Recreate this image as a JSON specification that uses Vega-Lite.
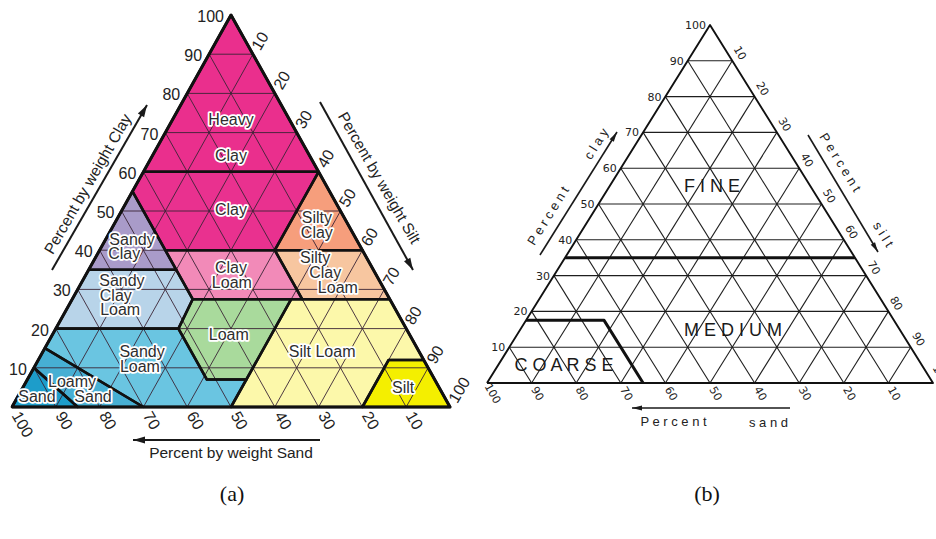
{
  "$schema": "https://vega.github.io/schema/vega-lite/v6.json",
  "padding": 0,
  "spacing": 0,
  "bounds": "flush",
  "autosize": {"type": "pad"},
  "background": "white",
  "config": {"view": {"stroke": null}, "text": {"font": "Liberation Sans"}},
  "datasets": {
    "grid": [
      {"x": 5, "y": 10, "x2": 95, "y2": 10}, {"x": 10, "y": 20, "x2": 90, "y2": 20}, {"x": 15, "y": 30, "x2": 85, "y2": 30},
      {"x": 20, "y": 40, "x2": 80, "y2": 40}, {"x": 25, "y": 50, "x2": 75, "y2": 50}, {"x": 30, "y": 60, "x2": 70, "y2": 60},
      {"x": 35, "y": 70, "x2": 65, "y2": 70}, {"x": 40, "y": 80, "x2": 60, "y2": 80}, {"x": 45, "y": 90, "x2": 55, "y2": 90},
      {"x": 10, "y": 0, "x2": 55, "y2": 90}, {"x": 20, "y": 0, "x2": 60, "y2": 80}, {"x": 30, "y": 0, "x2": 65, "y2": 70},
      {"x": 40, "y": 0, "x2": 70, "y2": 60}, {"x": 50, "y": 0, "x2": 75, "y2": 50}, {"x": 60, "y": 0, "x2": 80, "y2": 40},
      {"x": 70, "y": 0, "x2": 85, "y2": 30}, {"x": 80, "y": 0, "x2": 90, "y2": 20}, {"x": 90, "y": 0, "x2": 95, "y2": 10},
      {"x": 90, "y": 0, "x2": 45, "y2": 90}, {"x": 80, "y": 0, "x2": 40, "y2": 80}, {"x": 70, "y": 0, "x2": 35, "y2": 70},
      {"x": 60, "y": 0, "x2": 30, "y2": 60}, {"x": 50, "y": 0, "x2": 25, "y2": 50}, {"x": 40, "y": 0, "x2": 20, "y2": 40},
      {"x": 30, "y": 0, "x2": 15, "y2": 30}, {"x": 20, "y": 0, "x2": 10, "y2": 20}, {"x": 10, "y": 0, "x2": 5, "y2": 10}
    ],
    "tri": [
      {"i": 0, "x": 0, "y": 0}, {"i": 1, "x": 100, "y": 0}, {"i": 2, "x": 50, "y": 100}, {"i": 3, "x": 0, "y": 0}
    ],
    "clayTicks": [
      {"t": "10", "x": 5, "y": 10}, {"t": "20", "x": 10, "y": 20}, {"t": "30", "x": 15, "y": 30}, {"t": "40", "x": 20, "y": 40},
      {"t": "50", "x": 25, "y": 50}, {"t": "60", "x": 30, "y": 60}, {"t": "70", "x": 35, "y": 70}, {"t": "80", "x": 40, "y": 80},
      {"t": "90", "x": 45, "y": 90}, {"t": "100", "x": 50, "y": 100}
    ],
    "siltTicks": [
      {"t": "10", "x": 55, "y": 90}, {"t": "20", "x": 60, "y": 80}, {"t": "30", "x": 65, "y": 70}, {"t": "40", "x": 70, "y": 60},
      {"t": "50", "x": 75, "y": 50}, {"t": "60", "x": 80, "y": 40}, {"t": "70", "x": 85, "y": 30}, {"t": "80", "x": 90, "y": 20},
      {"t": "90", "x": 95, "y": 10}, {"t": "100", "x": 100, "y": 0}
    ],
    "sandTicks": [
      {"t": "100", "x": 0, "y": 0}, {"t": "90", "x": 10, "y": 0}, {"t": "80", "x": 20, "y": 0}, {"t": "70", "x": 30, "y": 0},
      {"t": "60", "x": 40, "y": 0}, {"t": "50", "x": 50, "y": 0}, {"t": "40", "x": 60, "y": 0}, {"t": "30", "x": 70, "y": 0},
      {"t": "20", "x": 80, "y": 0}, {"t": "10", "x": 90, "y": 0}
    ],
    "regionsA": [
      {"region": "Heavy Clay", "i": 0, "x": 50, "y": 100}, {"region": "Heavy Clay", "i": 1, "x": 30, "y": 60}, {"region": "Heavy Clay", "i": 2, "x": 70, "y": 60}, {"region": "Heavy Clay", "i": 3, "x": 50, "y": 100},
      {"region": "Clay", "i": 0, "x": 30, "y": 60}, {"region": "Clay", "i": 1, "x": 27.5, "y": 55}, {"region": "Clay", "i": 2, "x": 35, "y": 40}, {"region": "Clay", "i": 3, "x": 60, "y": 40}, {"region": "Clay", "i": 4, "x": 70, "y": 60}, {"region": "Clay", "i": 5, "x": 30, "y": 60},
      {"region": "Sandy Clay", "i": 0, "x": 27.5, "y": 55}, {"region": "Sandy Clay", "i": 1, "x": 17.5, "y": 35}, {"region": "Sandy Clay", "i": 2, "x": 37.5, "y": 35}, {"region": "Sandy Clay", "i": 3, "x": 27.5, "y": 55},
      {"region": "Silty Clay", "i": 0, "x": 70, "y": 60}, {"region": "Silty Clay", "i": 1, "x": 60, "y": 40}, {"region": "Silty Clay", "i": 2, "x": 80, "y": 40}, {"region": "Silty Clay", "i": 3, "x": 70, "y": 60},
      {"region": "Sandy Clay Loam", "i": 0, "x": 17.5, "y": 35}, {"region": "Sandy Clay Loam", "i": 1, "x": 37.5, "y": 35}, {"region": "Sandy Clay Loam", "i": 2, "x": 41.25, "y": 27.5}, {"region": "Sandy Clay Loam", "i": 3, "x": 38, "y": 20}, {"region": "Sandy Clay Loam", "i": 4, "x": 10, "y": 20}, {"region": "Sandy Clay Loam", "i": 5, "x": 17.5, "y": 35},
      {"region": "Clay Loam", "i": 0, "x": 35, "y": 40}, {"region": "Clay Loam", "i": 1, "x": 60, "y": 40}, {"region": "Clay Loam", "i": 2, "x": 66.25, "y": 27.5}, {"region": "Clay Loam", "i": 3, "x": 41.25, "y": 27.5}, {"region": "Clay Loam", "i": 4, "x": 35, "y": 40},
      {"region": "Silty Clay Loam", "i": 0, "x": 60, "y": 40}, {"region": "Silty Clay Loam", "i": 1, "x": 80, "y": 40}, {"region": "Silty Clay Loam", "i": 2, "x": 86.25, "y": 27.5}, {"region": "Silty Clay Loam", "i": 3, "x": 66.25, "y": 27.5}, {"region": "Silty Clay Loam", "i": 4, "x": 60, "y": 40},
      {"region": "Loam", "i": 0, "x": 41.25, "y": 27.5}, {"region": "Loam", "i": 1, "x": 63.75, "y": 27.5}, {"region": "Loam", "i": 2, "x": 53.5, "y": 7}, {"region": "Loam", "i": 3, "x": 44.5, "y": 7}, {"region": "Loam", "i": 4, "x": 38, "y": 20}, {"region": "Loam", "i": 5, "x": 41.25, "y": 27.5},
      {"region": "Silt Loam", "i": 0, "x": 63.75, "y": 27.5}, {"region": "Silt Loam", "i": 1, "x": 86.25, "y": 27.5}, {"region": "Silt Loam", "i": 2, "x": 94, "y": 12}, {"region": "Silt Loam", "i": 3, "x": 86, "y": 12}, {"region": "Silt Loam", "i": 4, "x": 80, "y": 0}, {"region": "Silt Loam", "i": 5, "x": 50, "y": 0}, {"region": "Silt Loam", "i": 6, "x": 63.75, "y": 27.5},
      {"region": "Silt", "i": 0, "x": 94, "y": 12}, {"region": "Silt", "i": 1, "x": 100, "y": 0}, {"region": "Silt", "i": 2, "x": 80, "y": 0}, {"region": "Silt", "i": 3, "x": 86, "y": 12}, {"region": "Silt", "i": 4, "x": 94, "y": 12},
      {"region": "Sandy Loam", "i": 0, "x": 7.5, "y": 15}, {"region": "Sandy Loam", "i": 1, "x": 10, "y": 20}, {"region": "Sandy Loam", "i": 2, "x": 38, "y": 20}, {"region": "Sandy Loam", "i": 3, "x": 44.5, "y": 7}, {"region": "Sandy Loam", "i": 4, "x": 53.5, "y": 7}, {"region": "Sandy Loam", "i": 5, "x": 50, "y": 0}, {"region": "Sandy Loam", "i": 6, "x": 30, "y": 0}, {"region": "Sandy Loam", "i": 7, "x": 7.5, "y": 15},
      {"region": "Loamy Sand", "i": 0, "x": 30, "y": 0}, {"region": "Loamy Sand", "i": 1, "x": 7.5, "y": 15}, {"region": "Loamy Sand", "i": 2, "x": 5, "y": 10}, {"region": "Loamy Sand", "i": 3, "x": 15, "y": 0}, {"region": "Loamy Sand", "i": 4, "x": 30, "y": 0},
      {"region": "Sand", "i": 0, "x": 5, "y": 10}, {"region": "Sand", "i": 1, "x": 0, "y": 0}, {"region": "Sand", "i": 2, "x": 15, "y": 0}, {"region": "Sand", "i": 3, "x": 5, "y": 10}
    ],
    "labelsA": [
      {"t": "Heavy", "x": 50, "y": 73.2}, {"t": "Clay", "x": 50, "y": 64.0}, {"t": "Clay", "x": 50, "y": 50.3},
      {"t": "Sandy", "x": 27.4, "y": 42.6}, {"t": "Clay", "x": 25.6, "y": 39.0},
      {"t": "Sandy", "x": 25.1, "y": 32.1}, {"t": "Clay", "x": 23.7, "y": 28.3}, {"t": "Loam", "x": 24.7, "y": 24.7},
      {"t": "Clay", "x": 50, "y": 35.5}, {"t": "Loam", "x": 50.2, "y": 31.6},
      {"t": "Silty", "x": 69.6, "y": 48.2}, {"t": "Clay", "x": 69.6, "y": 44.4},
      {"t": "Silty", "x": 69.2, "y": 38.0}, {"t": "Clay", "x": 71.5, "y": 34.2}, {"t": "Loam", "x": 74.4, "y": 30.4},
      {"t": "Loam", "x": 49.5, "y": 18.4}, {"t": "Sandy", "x": 29.7, "y": 14.0}, {"t": "Loam", "x": 29.2, "y": 10.2},
      {"t": "Loamy", "x": 13.7, "y": 6.4}, {"t": "Sand", "x": 18.5, "y": 2.6}, {"t": "Sand", "x": 5.7, "y": 2.6},
      {"t": "Silt Loam", "x": 70.8, "y": 14.0}, {"t": "Silt", "x": 89.3, "y": 4.9}
    ],
    "thickB": [
      {"line": "fine", "i": 0, "x": 17.5, "y": 35}, {"line": "fine", "i": 1, "x": 82.5, "y": 35},
      {"line": "coarse", "i": 0, "x": 8.75, "y": 17.5}, {"line": "coarse", "i": 1, "x": 26.25, "y": 17.5}, {"line": "coarse", "i": 2, "x": 35, "y": 0}
    ]
  },
  "hconcat": [
    {
      "width": 468,
      "height": 539,
      "encoding": {
        "x": {"field": "x", "type": "quantitative", "scale": {"domain": [-2.7397, 104.1096], "nice": false, "zero": false}, "axis": null},
        "y": {"field": "y", "type": "quantitative", "scale": {"domain": [-33.673, 103.827], "nice": false, "zero": false}, "axis": null}
      },
      "layer": [
        {
          "data": {"name": "regionsA"},
          "mark": {"type": "line", "filled": true, "strokeWidth": 0},
          "encoding": {
            "detail": {"field": "region"},
            "order": {"field": "i", "type": "quantitative"},
            "color": {"field": "region", "type": "nominal", "legend": null,
              "scale": {"domain": ["Heavy Clay", "Clay", "Sandy Clay", "Silty Clay", "Sandy Clay Loam", "Clay Loam", "Silty Clay Loam", "Loam", "Silt Loam", "Silt", "Sandy Loam", "Loamy Sand", "Sand"],
                        "range": ["#ea2f8d", "#e9318f", "#a99bc9", "#f69e7c", "#b8d4e9", "#f28ab8", "#f7c6a0", "#a9da9c", "#fcf8aa", "#f4ef00", "#6ac5e1", "#47afd3", "#1d9dca"]}}
          }
        },
        {
          "data": {"name": "grid"},
          "mark": {"type": "rule", "color": "#3a2535", "strokeWidth": 0.9},
          "encoding": {"x2": {"field": "x2"}, "y2": {"field": "y2"}}
        },
        {
          "data": {"name": "regionsA"},
          "mark": {"type": "line", "color": "#111111", "strokeWidth": 2.6, "strokeJoin": "round"},
          "encoding": {"detail": {"field": "region"}, "order": {"field": "i", "type": "quantitative"}}
        },
        {
          "data": {"name": "tri"},
          "mark": {"type": "line", "color": "#111111", "strokeWidth": 3, "strokeJoin": "round"},
          "encoding": {"order": {"field": "i", "type": "quantitative"}}
        },
        {
          "data": {"name": "clayTicks"},
          "mark": {"type": "text", "fontSize": 16, "align": "right", "baseline": "middle", "dx": -7, "dy": 2, "color": "#222222"},
          "encoding": {"text": {"field": "t"}}
        },
        {
          "data": {"name": "siltTicks"},
          "mark": {"type": "text", "fontSize": 16, "align": "left", "baseline": "middle", "angle": -60, "dx": 6, "color": "#222222"},
          "encoding": {"text": {"field": "t"}}
        },
        {
          "data": {"name": "sandTicks"},
          "mark": {"type": "text", "fontSize": 16, "align": "left", "baseline": "middle", "angle": 60, "dx": 7, "color": "#222222"},
          "encoding": {"text": {"field": "t"}}
        },
        {
          "data": {"values": [
            {"x": 9.13, "y": 34.95, "x2": 30.82, "y2": 77.04},
            {"x": 70.32, "y": 77.81, "x2": 91.55, "y2": 34.95},
            {"x": 70.32, "y": -8.42, "x2": 27.63, "y2": -8.42}
          ]},
          "mark": {"type": "rule", "color": "#1a1a1a", "strokeWidth": 2},
          "encoding": {"x2": {"field": "x2"}, "y2": {"field": "y2"}}
        },
        {
          "data": {"values": [{"x": 30.82, "y": 77.04}]},
          "mark": {"type": "point", "shape": "M0,0L0.6,2L-0.6,2Z", "size": 144, "angle": 30, "filled": true, "color": "#1a1a1a", "opacity": 1, "strokeWidth": 0}
        },
        {
          "data": {"values": [{"x": 91.55, "y": 34.95}]},
          "mark": {"type": "point", "shape": "M0,0L0.6,2L-0.6,2Z", "size": 144, "angle": 151, "filled": true, "color": "#1a1a1a", "opacity": 1, "strokeWidth": 0}
        },
        {
          "data": {"values": [{"x": 27.63, "y": -8.42}]},
          "mark": {"type": "point", "shape": "M0,0L0.6,2L-0.6,2Z", "size": 144, "angle": 270, "filled": true, "color": "#1a1a1a", "opacity": 1, "strokeWidth": 0}
        },
        {
          "data": {"values": [{"t": "Percent by weight Clay", "x": 17.35, "y": 56.89}]},
          "mark": {"type": "text", "fontSize": 15.5, "angle": -60, "align": "center", "baseline": "middle", "color": "#222222"},
          "encoding": {"text": {"field": "t"}}
        },
        {
          "data": {"values": [{"t": "Percent by weight Silt", "x": 83.79, "y": 58.42}]},
          "mark": {"type": "text", "fontSize": 15.5, "angle": 60, "align": "center", "baseline": "middle", "color": "#222222"},
          "encoding": {"text": {"field": "t"}}
        },
        {
          "data": {"values": [{"t": "Percent by weight Sand", "x": 50, "y": -11.73}]},
          "mark": {"type": "text", "fontSize": 15.5, "align": "center", "baseline": "middle", "color": "#222222"},
          "encoding": {"text": {"field": "t"}}
        },
        {
          "data": {"values": [{"t": "(a)", "x": 50.23, "y": -22.19}]},
          "mark": {"type": "text", "fontSize": 22, "font": "Liberation Serif", "align": "center", "baseline": "middle", "color": "#111111"},
          "encoding": {"text": {"field": "t"}}
        },
        {
          "data": {"name": "labelsA"},
          "mark": {"type": "text", "fontSize": 16, "align": "center", "baseline": "middle", "color": "white", "stroke": "white", "strokeWidth": 3.5, "strokeJoin": "round", "strokeOpacity": 1},
          "encoding": {"text": {"field": "t"}}
        },
        {
          "data": {"name": "labelsA"},
          "mark": {"type": "text", "fontSize": 16, "align": "center", "baseline": "middle", "color": "#2e2e2e"},
          "encoding": {"text": {"field": "t"}}
        }
      ]
    },
    {
      "width": 468,
      "height": 539,
      "encoding": {
        "x": {"field": "x", "type": "quantitative", "scale": {"domain": [-4.2601, 100.6726], "nice": false, "zero": false}, "axis": null},
        "y": {"field": "y", "type": "quantitative", "scale": {"domain": [-43.575, 106.984], "nice": false, "zero": false}, "axis": null}
      },
      "layer": [
        {
          "data": {"name": "grid"},
          "mark": {"type": "rule", "color": "#1e1e1e", "strokeWidth": 1.1},
          "encoding": {"x2": {"field": "x2"}, "y2": {"field": "y2"}}
        },
        {
          "data": {"name": "thickB"},
          "mark": {"type": "line", "color": "#111111", "strokeWidth": 3, "strokeJoin": "round"},
          "encoding": {"detail": {"field": "line"}, "order": {"field": "i", "type": "quantitative"}}
        },
        {
          "data": {"name": "tri"},
          "mark": {"type": "line", "color": "#111111", "strokeWidth": 1.9, "strokeJoin": "round"},
          "encoding": {"order": {"field": "i", "type": "quantitative"}}
        },
        {
          "data": {"name": "clayTicks"},
          "mark": {"type": "text", "fontSize": 11, "font": "DejaVu Sans", "align": "right", "baseline": "middle", "dx": -4, "dy": 1, "color": "#222222"},
          "encoding": {"text": {"field": "t"}}
        },
        {
          "data": {"name": "siltTicks"},
          "mark": {"type": "text", "fontSize": 11, "font": "DejaVu Sans", "align": "center", "baseline": "middle", "angle": 60, "dx": -3, "dy": -10, "color": "#222222"},
          "encoding": {"text": {"field": "t"}}
        },
        {
          "data": {"name": "sandTicks"},
          "mark": {"type": "text", "fontSize": 11, "font": "DejaVu Sans", "align": "center", "baseline": "middle", "angle": 60, "dx": 12, "dy": 1, "color": "#222222"},
          "encoding": {"text": {"field": "t"}}
        },
        {
          "data": {"values": [
            {"x": 11.88, "y": 35.75, "x2": 29.15, "y2": 70.11},
            {"x": 71.97, "y": 69.27, "x2": 87.67, "y2": 36.59},
            {"x": 67.94, "y": -6.98, "x2": 32.51, "y2": -6.98}
          ]},
          "mark": {"type": "rule", "color": "#1a1a1a", "strokeWidth": 1.6},
          "encoding": {"x2": {"field": "x2"}, "y2": {"field": "y2"}}
        },
        {
          "data": {"values": [{"x": 29.15, "y": 70.11}]},
          "mark": {"type": "point", "shape": "M0,0L0.5,2L-0.5,2Z", "size": 100, "angle": 32, "filled": true, "color": "#1a1a1a", "opacity": 1, "strokeWidth": 0}
        },
        {
          "data": {"values": [{"x": 87.67, "y": 36.59}]},
          "mark": {"type": "point", "shape": "M0,0L0.5,2L-0.5,2Z", "size": 100, "angle": 149, "filled": true, "color": "#1a1a1a", "opacity": 1, "strokeWidth": 0}
        },
        {
          "data": {"values": [{"x": 32.51, "y": -6.98}]},
          "mark": {"type": "point", "shape": "M0,0L0.5,2L-0.5,2Z", "size": 100, "angle": 270, "filled": true, "color": "#1a1a1a", "opacity": 1, "strokeWidth": 0}
        },
        {
          "data": {"values": [{"t": "P  e  r  c  e  n  t", "x": 13.79, "y": 46.65}, {"t": "c  l  a  y", "x": 24.55, "y": 66.76}]},
          "mark": {"type": "text", "fontSize": 13, "angle": -58, "align": "center", "baseline": "middle", "color": "#222222"},
          "encoding": {"text": {"field": "t"}}
        },
        {
          "data": {"values": [{"t": "P  e  r  c  e  n  t", "x": 79.15, "y": 61.59}, {"t": "s  i  l  t", "x": 88.79, "y": 41.48}]},
          "mark": {"type": "text", "fontSize": 13, "angle": 58, "align": "center", "baseline": "middle", "color": "#222222"},
          "encoding": {"text": {"field": "t"}}
        },
        {
          "data": {"values": [{"t": "P  e  r  c  e  n  t", "x": 41.82, "y": -10.89}, {"t": "s  a  n  d", "x": 63.12, "y": -11.17}]},
          "mark": {"type": "text", "fontSize": 13, "align": "center", "baseline": "middle", "color": "#222222"},
          "encoding": {"text": {"field": "t"}}
        },
        {
          "data": {"values": [{"t": "F  I  N  E", "x": 50.45, "y": 54.75}, {"t": "M  E  D  I  U  M", "x": 55.16, "y": 14.53}, {"t": "C O A R S E", "x": 17.26, "y": 4.75}]},
          "mark": {"type": "text", "fontSize": 18, "align": "center", "baseline": "middle", "color": "#1a1a1a"},
          "encoding": {"text": {"field": "t"}}
        },
        {
          "data": {"values": [{"t": "(b)", "x": 49.33, "y": -31.01}]},
          "mark": {"type": "text", "fontSize": 22, "font": "Liberation Serif", "align": "center", "baseline": "middle", "color": "#111111"},
          "encoding": {"text": {"field": "t"}}
        }
      ]
    }
  ]
}
